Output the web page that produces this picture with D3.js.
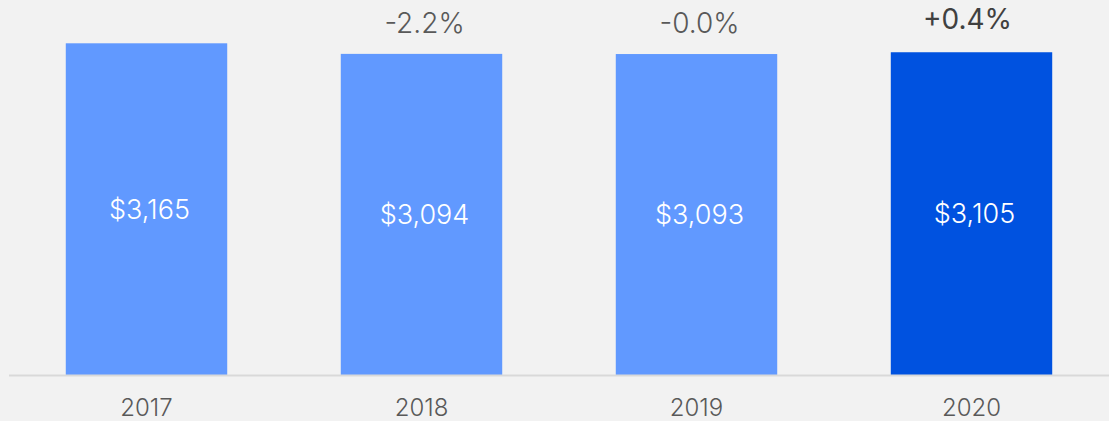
<!DOCTYPE html>
<html lang="en">
<head>
<meta charset="UTF-8">
<title>Bars</title>
<script src="https://d3js.org/d3.v7.min.js"></script>
<style>
  body { margin: 0; background: #f2f2f2; }
  svg { display: block; font-family: Inter, Roboto, sans-serif; }
</style>
</head>
<body>
<div id="chart"></div>
<script>
// data
var years = ["2017", "2018", "2019", "2020"]
var values = [3165, 3094, 3093, 3105]
var changes = ["", "-2.2%", "-0.0%", "+0.4%"]
var highlight = "2020"

var width = 1109
var height = 421
var baseline = 375

var svg = d3.select("#chart")
  .append("svg")
    .attr("width", width)
    .attr("height", height)

svg.append("rect")
  .attr("width", width)
  .attr("height", height)
  .attr("fill", "#f2f2f2")

var x = d3.scaleBand()
  .domain(years)
  .range([9, 1109])
  .paddingInner(0.413)
  .paddingOuter(0.2065)

// the axis doesn't start at zero in the original
var y = d3.scaleLinear()
  .domain([940, 3165])
  .range([baseline, 43.3])

var data = years.map(function(yr, i) {
  return { year: yr, value: values[i], change: changes[i] }
})

svg.selectAll("rect.bar")
  .data(data)
  .enter()
  .append("rect")
    .attr("class", "bar")
    .attr("x", function(d) { return x(d.year) })
    .attr("width", x.bandwidth())
    .attr("y", function(d) { return y(d.value) })
    .attr("height", function(d) { return baseline - y(d.value) })
    .attr("fill", function(d) { return d.year == highlight ? "#0052e0" : "#6199ff" })

// baseline
svg.append("line")
  .attr("x1", 9).attr("x2", width)
  .attr("y1", baseline + 0.5).attr("y2", baseline + 0.5)
  .attr("stroke", "#d9d9d9")
  .attr("stroke-width", 2)

// value labels inside bars
svg.selectAll("text.val")
  .data(data)
  .enter()
  .append("text")
    .attr("class", "val")
    .attr("x", function(d) { return x(d.year) + x.bandwidth() / 2 + 3 })
    .attr("y", function(d) { return (y(d.value) + baseline) / 2 })
    .attr("dy", "0.36em")
    .attr("text-anchor", "middle")
    .attr("fill", "#ffffff")
    .attr("font-size", 27)
    .attr("font-weight", 300)
    .text(function(d) { return "$" + d3.format(",")(d.value) })

// change labels above bars
svg.selectAll("text.chg")
  .data(data.filter(function(d) { return d.change != "" }))
  .enter()
  .append("text")
    .attr("class", "chg")
    .attr("x", function(d) { return x(d.year) + x.bandwidth() / 2 + (d.year == highlight ? -4 : 3) })
    .attr("y", function(d) { return y(d.value) - (d.year == highlight ? 23.5 : 20.7) })
    .attr("text-anchor", "middle")
    .attr("fill", function(d) { return d.year == highlight ? "#404040" : "#595959" })
    .attr("font-size", 28)
    .attr("font-weight", function(d) { return d.year == highlight ? 400 : 300 })
    .text(function(d) { return d.change })

// year labels
svg.selectAll("text.yr")
  .data(years)
  .enter()
  .append("text")
    .attr("class", "yr")
    .attr("x", function(d) { return x(d) + x.bandwidth() / 2 })
    .attr("y", 415.5)
    .attr("text-anchor", "middle")
    .attr("fill", "#595959")
    .attr("font-size", 24)
    .attr("font-weight", 300)
    .text(function(d) { return d })
</script>
</body>
</html>
